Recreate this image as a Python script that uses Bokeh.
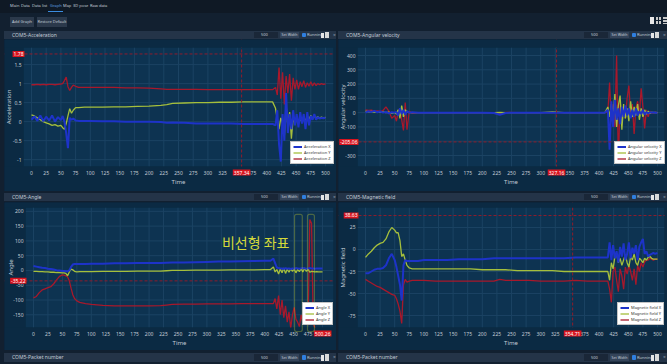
import math
from bokeh.plotting import figure
from bokeh.layouts import column, row
from bokeh.models import (Div, Span, Label, Legend, LegendItem, Range1d,
                          BoxAnnotation, Spacer)
from bokeh.embed import file_html
from bokeh.resources import INLINE

# ---------------- data ----------------
time = [0, 5, 10, 15, 20, 25, 30, 35, 40, 45, 50, 53, 56, 59, 62, 65, 68, 71, 75, 80,
        90, 100, 120, 140, 160, 180, 200, 220, 230, 240, 260, 280, 300, 320, 340, 360, 380, 400, 410,
        415, 418, 421, 424, 427, 430, 433, 436, 439, 442, 445, 448, 451, 454, 457, 460, 463, 466,
        469, 472, 475, 478, 481, 484, 487, 490, 493, 496, 500]

x_ticks = [0, 25, 50, 75, 100, 125, 150, 175, 200, 225, 250, 275, 300, 325, 350, 375, 400, 425, 450, 475, 500]

acc_x = [0.05, 0.14, 0.02, 0.16, 0.01, 0.13, 0.03, 0.16, 0.0, 0.12, 0.04,
         0.15, 0.0, -0.3, -0.7, 0.1, 0.05, 0.08, 0.03, 0.02,
         0.02, 0.02, 0.01, 0.01, 0.0, 0.0, 0.0, -0.01, -0.03, -0.02, -0.03, -0.05, -0.05, -0.05, -0.05, -0.06, -0.06, -0.06, -0.06,
         -0.1, 0.3, -0.6, -1.05, 0.2, -0.5, 0.75, -0.3, 0.2, -0.2, 0.3, -0.1, 0.2, -0.15, 0.25,
         -0.05, 0.2, -0.2, 0.25, -0.1, 0.15, 0.05, 0.2, 0.05, 0.12, 0.08, 0.1, 0.09, 0.1]
acc_y = [0.18, 0.15, 0.1, 0.05, 0.0, -0.03, -0.06, -0.1, -0.08, -0.12, -0.1,
         -0.16, -0.2, -0.05, 0.15, 0.34, 0.22, 0.3, 0.37, 0.37,
         0.38, 0.38, 0.38, 0.39, 0.39, 0.4, 0.41, 0.43, 0.45, 0.48, 0.49, 0.5, 0.5, 0.51, 0.51, 0.52, 0.52, 0.52, 0.52,
         0.35, 0.05, -0.2, 0.1, -0.05, -0.38, 0.45, -0.15, 0.25, -0.45, 0.1, -0.05, 0.05, -0.03, 0.08,
         0.0, 0.1, 0.02, 0.14, 0.05, 0.16, 0.08, 0.15, 0.1, 0.13, 0.08, 0.12, 0.1, 0.11]
acc_z = [0.97, 0.97, 0.98, 0.97, 0.98, 0.97, 0.98, 0.98, 0.97, 0.98, 0.99,
         1.0, 1.08, 1.17, 0.92, 0.82, 0.9, 0.96, 0.93, 0.9,
         0.9, 0.9, 0.9, 0.9, 0.89, 0.89, 0.88, 0.86, 0.85, 0.85, 0.85, 0.85, 0.84, 0.84, 0.84, 0.84, 0.84, 0.84, 0.84,
         0.9, 0.7, 1.42, 0.6, 1.3, 0.45, 1.2, 0.75, 1.25, 0.55, 1.15, 0.85, 1.1, 0.85, 1.05,
         0.92, 1.08, 0.9, 1.02, 0.93, 1.05, 0.94, 1.02, 0.95, 1.0, 0.97, 1.0, 0.98, 0.99]

av_x = [0, 10, 5, 12, 3, 8, 0, 5, -5, 3, 0,
        5, -20, 30, -10, 20, -15, 10, 0, 2,
        0, 0, 0, 0, 0, 0, 0, -3, -15, -2, 0, 0, 0, 0, 0, 0, 0, 0, 0,
        20, -260, 80, -100, 90, -50, 30, -80, 40, -30, 50, -20, 30, -40, 20,
        -30, 30, -20, 10, -10, 20, -15, 5, -5, 3, 0, 2, 0, 0]
av_y = [10, 5, 8, 3, 5, 2, 5, 0, 3, -5, 0,
        -10, 20, -40, 50, -30, 20, 5, 0, 0,
        0, 0, 0, 0, 0, 0, 0, 0, 2, 0, 0, 0, 0, 5, 0, 0, 0, 0, 0,
        40, -30, 60, -60, 130, -100, 50, 120, -120, 60, -40, 30, -60, 80, -30,
        40, -20, 60, -50, 30, -30, 20, -10, 10, -5, 3, 0, 1, 0]
av_z = [20, 15, 18, 10, 12, 8, 15, 40, 10, -40, -20,
        -60, 10, 30, -50, -125, 70, -120, 10, -5,
        0, 0, 0, 0, 0, 0, 0, 0, -3, 2, 0, 0, 0, 0, 0, 0, 0, 0, 0,
        5, 210, -60, 60, -100, 400, -350, 80, -60, 40, -40, 100, 190, -20, 60,
        -150, 30, 80, -20, 170, 40, -110, 20, -30, 10, -5, 0, 2, 0]

ang_x = [15, 13, 11, 9, 8, 6, 5, 3, 1, 0, -2,
         -2, -3, -3, 0, 12, 20, 22, 22, 22,
         22, 23, 23, 24, 24, 25, 25, 25, 26, 27, 27, 28, 29, 30, 30, 31, 32, 33, 33,
         40, 25, 10, 8, 7, 7, 5, 8, 6, 7, 5, 7, 6, 8, 7,
         6, 7, 8, 7, 6, 7, 8, 7, 7, 6, 7, 7, 7, 7]
ang_y = [-3, -3, -4, -4, -5, -5, -6, -6, -7, -7, -8,
         -8, -10, -18, -5, 5, 2, -3, -5, -4,
         -4, -4, -3, -3, -3, -2, -2, -2, -1, 0, 0, 1, 1, 1, 2, 2, 2, 3, 3,
         12, -5, 3, -12, 5, -8, 8, -10, 4, -6, 6, -3, 5, -8, 3,
         -4, 6, -5, 8, -3, 4, -6, -3, -4, -5, -4, -5, -5, -5]
ang_z = [-93, -88, -75, -66, -62, -58, -55, -45, -32, -20, -15,
         -16, -18, -22, -35, -60, -82, -95, -103, -108,
         -112, -115, -118, -120, -120, -120, -120, -119, -117, -115, -114, -114, -113, -113, -113, -112, -112, -112, -112,
         -112, -95, -130, -85, -150, -100, -160, -120, -175, -140, -195, -150, -125, -165, -175,
         -190, -150, -178, -140, -165, -185, 172, 160, -180, -195, -200, -198, -200, -200]

mag_x = [-27, -27, -25, -23, -22, -22, -21, -18, -10, -5, -12,
         -20, -30, -40, -58, -18, -12, -13, -13, -13,
         -13, -12, -12, -12, -11, -11, -11, -10, -10, -10, -10, -10, -10, -10, -10, -9, -9, -9, -9,
         -9, 8, -12, 5, -10, -2, -15, 3, -8, 7, -12, -5, 8, -10, 2,
         -5, 5, -12, 3, 8, 12, -5, -2, -8, -6, -5, -4, -5, -4]
mag_y = [-9, -5, -2, 2, 5, 7, 8, 12, 20, 25, 22,
         19, 19, 10, -8, -5, -12, -18, -21, -22,
         -22, -22, -22, -22, -22, -22, -23, -23, -23, -23, -24, -24, -24, -24, -25, -25, -25, -25, -25,
         -25, -35, -15, -22, -8, -5, -15, -10, -18, -12, -6, -15, -20, -8, -12,
         -5, -15, -18, -10, -12, -15, -10, -12, -9, -8, -10, -11, -11, -11]
mag_z = [-34, -36, -38, -40, -42, -43, -45, -47, -49, -51, -52,
         -56, -62, -70, -84, -40, -34, -37, -36, -35,
         -35, -35, -36, -36, -36, -36, -36, -36, -34, -35, -35, -35, -36, -36, -36, -35, -36, -36, -36,
         -36, -45, -60, -25, -20, -35, -48, -22, -30, -45, -20, -28, -18, -25, -35,
         -22, -40, -18, -25, -15, -20, -14, -12, -12, -10, -11, -12, -11, -11]

acc_ticks = [-1, -0.5, 0, 0.5, 1, 1.5]
acc_tick_labels = ["-1", "-0.5", "0", "0.5", "1", "1.5"]
av_ticks = [-300, -200, -100, 0, 100, 200, 300, 400]
ang_ticks = [-150, -100, -50, 0, 50, 100, 150, 200]
mag_ticks = [-75, -50, -25, 0, 25]

tabs = ["Main", "Data", "Data list", "Graph", "Map", "3D pose", "Raw data"]

# ---------------- style ----------------
PAGE_BG = "#122030"
NAV_BG = "#0f1925"
BAR_BG = "#243448"
PANEL_BG = "#0b2a43"
PLOT_BG = "#0d3351"
GRID = "#1b4363"
TXT = "#c3ccd6"
CROSS = "#8e1d2c"
LBL_BG = "#d8141e"
BLUE = "#1d33c9"
YEL = "#a5bf3c"
RED = "#a8182b"
FONT = "Noto Sans"
WIDTHS = {"x": 2.0, "y": 1.3, "z": 1.3}


def geo(W, H, L, R, T, B, xr, yr):
    kx = (xr[1] - xr[0]) / (R - L)
    ky = (yr[1] - yr[0]) / (B - T)
    return dict(W=W, H=H, L=L, R=R, T=T, B=B, x0=xr[0], x1=xr[1], y0=yr[0], y1=yr[1],
                kx=kx, ky=ky, xs=xr[0] - L * kx, xe=xr[1] + (W - R) * kx,
                ys=yr[0] - (H - B) * ky, ye=yr[1] + T * ky)


def px_x(g, px):
    return g["xs"] + px * g["kx"]


def px_y(g, py):
    return g["ye"] - py * g["ky"]


def txt(x, y, s, size="5px", align="center", color=TXT, angle=0.0):
    return Label(x=x, y=y, text=s, text_font=FONT, text_font_size=size, text_color=color,
                 text_align=align, text_baseline="middle", angle=angle, level="overlay")


def red_label(x, y, s, align="center"):
    return Label(x=x, y=y, text=s, text_font=FONT, text_font_size="5px", text_color="white",
                 background_fill_color=LBL_BG, text_align=align, text_baseline="middle",
                 padding=1, level="overlay")


def build(g, yticks, ylabs, ylabel, series, names, hy, hy_txt, vx, vx_txt, leg_loc, leg_lw=20):
    p = figure(width=g["W"], height=g["H"],
               x_range=Range1d(g["xs"], g["xe"]), y_range=Range1d(g["ys"], g["ye"]),
               x_axis_type=None, y_axis_type=None, output_backend="svg", toolbar_location=None,
               min_border_left=0, min_border_right=0, min_border_top=0, min_border_bottom=0)
    p.background_fill_color = PANEL_BG
    p.border_fill_color = PANEL_BG
    p.outline_line_color = None
    x0, x1, y0, y1 = g["x0"], g["x1"], g["y0"], g["y1"]
    p.add_layout(BoxAnnotation(left=x0, right=x1, bottom=y0, top=y1, fill_color=PLOT_BG,
                               fill_alpha=1, line_color=None, level="underlay"))
    # grid
    p.segment(x0=x_ticks, y0=[y0] * len(x_ticks), x1=x_ticks, y1=[y1] * len(x_ticks),
              line_color=GRID, line_width=1)
    p.segment(x0=[x0] * len(yticks), y0=yticks, x1=[x1] * len(yticks), y1=yticks,
              line_color=GRID, line_width=1)
    # series
    rs = {}
    for key in ("z", "y", "x"):
        ys, c = series[key]
        rs[key] = p.line(time, ys, line_color=c, line_width=WIDTHS[key])
    # crosshair
    if hy is not None:
        p.add_layout(Span(location=hy, dimension="width", line_color=CROSS,
                          line_dash="3 2", line_width=1))
    if vx is not None:
        p.add_layout(Span(location=vx, dimension="height", line_color=CROSS,
                          line_dash="3 2", line_width=1))
    # legend
    items = [LegendItem(label=names[i], renderers=[rs[k]]) for i, k in enumerate(("x", "y", "z"))]
    p.add_layout(Legend(items=items, location=leg_loc, background_fill_color="white",
                        background_fill_alpha=1.0, border_line_color="#8a8a8a",
                        border_line_width=0.5, label_text_font_size="4px",
                        label_text_color="#333333", label_text_font=FONT,
                        label_height=5, label_width=leg_lw, glyph_height=5, glyph_width=9,
                        spacing=1, padding=2, margin=0, label_standoff=2))
    # masks outside the plot area
    for kw in (dict(right=x0), dict(left=x1), dict(top=y0), dict(bottom=y1)):
        p.add_layout(BoxAnnotation(fill_color=PANEL_BG, fill_alpha=1, line_color=None,
                                   level="overlay", **kw))
    # x tick labels + axis label
    ty = px_y(g, g["B"] + 6)
    for t in x_ticks:
        p.add_layout(txt(t, ty, str(t)))
    p.add_layout(txt((x0 + x1) / 2, px_y(g, g["B"] + 15), "Time", size="6px"))
    # y tick labels + axis label
    lx = px_x(g, g["L"] - 2)
    for v, s in zip(yticks, ylabs):
        p.add_layout(txt(lx, v, s, align="right"))
    p.add_layout(txt(px_x(g, g["L"] - 15), (y0 + y1) / 2, ylabel, size="6px", angle=math.pi / 2))
    # crosshair value labels
    if hy is not None:
        p.add_layout(red_label(px_x(g, g["L"] + 1), hy, hy_txt, align="right"))
    if vx is not None:
        p.add_layout(red_label(vx, ty, vx_txt))
    return p


# ---------- plot 1: acceleration ----------
g1 = geo(332, 152, 19, 329, 8, 127, (-13.6, 513.6), (-1.18, 1.95))
p1 = build(g1, acc_ticks, acc_tick_labels, "Acceleration",
           {"x": (acc_x, BLUE), "y": (acc_y, YEL), "z": (acc_z, RED)},
           ["Acceleration X", "Acceleration Y", "Acceleration Z"],
           1.78, "1.78", 357.34, "357.34", (286, 27))

# ---------- plot 2: angular velocity ----------
g2 = geo(329, 152, 19, 326, 8, 127, (-13.7, 512), (-377, 456))
p2 = build(g2, av_ticks, [str(v) for v in av_ticks], "Angular velocity",
           {"x": (av_x, BLUE), "y": (av_y, YEL), "z": (av_z, RED)},
           ["Angular velocity X", "Angular velocity Y", "Angular velocity Z"],
           -205.06, "-205.06", 327.16, "327.16", (276, 27))

# ---------- plot 3: angle ----------
g3 = geo(332, 148, 21, 329, 5, 125, (-13.8, 519), (-193, 213))
p3 = build(g3, ang_ticks, [str(v) for v in ang_ticks], "Angle",
           {"x": (ang_x, BLUE), "y": (ang_y, YEL), "z": (ang_z, RED)},
           ["Angle X", "Angle Y", "Angle Z"],
           -35.22, "-35.22", None, None, (298, 25), leg_lw=10)
p3.add_layout(red_label(500.26, px_y(g3, g3["B"] + 6), "500.26"))
box_bottom = px_y(g3, g3["B"] + 4)
for l, r in ((451.6, 465), (474, 486)):
    p3.add_layout(BoxAnnotation(left=l, right=r, top=190, bottom=box_bottom, fill_alpha=0,
                                line_color="#d8de2a", line_width=1.2, border_radius=2,
                                level="overlay"))
p3.add_layout(Label(x=326, y=97, text="비선형 좌표", text_font="Noto Sans CJK KR",
                    text_font_size="14px", text_color="#d4d93a", text_baseline="middle",
                    text_align="left"))

# ---------- plot 4: magnetic field ----------
g4 = geo(329, 148, 19, 326, 5, 125, (-13.7, 512), (-88.6, 47.7))
p4 = build(g4, mag_ticks, [str(v) for v in mag_ticks], "Magnetic field",
           {"x": (mag_x, BLUE), "y": (mag_y, YEL), "z": (mag_z, RED)},
           ["Magnetic field X", "Magnetic field Y", "Magnetic field Z"],
           38.63, "38.63", 354.71, "354.71", (279, 25))


# ---------------- HTML chrome ----------------
def abs_el(left, top, w, h, inner="", style=""):
    ws = f"width:{w}px;" if w is not None else ""
    return (f'<div style="position:absolute;left:{left}px;top:{top}px;{ws}height:{h}px;'
            f'line-height:{h}px;white-space:nowrap;{style}">{inner}</div>')


def bar_html(x0, w, top, h, title, s):
    out = abs_el(x0, top, w, h, "", f"background:{BAR_BG};")
    out += abs_el(x0 + 8, top, None, h, title)
    out += abs_el(x0 + 250 + s, top + 1, 24, h - 2, "", "background:#1a2738;")
    out += abs_el(x0 + 257 + s, top, None, h, "500", "font-size:4px;")
    out += abs_el(x0 + 276 + s, top + 1, 19, h - 2, "Set Width",
                  "background:#34445a;text-align:center;font-size:3.5px;")
    out += abs_el(x0 + 298 + s, top + 2, 4, h - 4, "", "background:#2f7fe0;border-radius:1px;")
    out += abs_el(x0 + 303 + s, top, None, h, "Running", "font-size:4px;")
    out += abs_el(x0 + 317 + s, top + 2, 3, h - 3, "", "background:#e6e6e6;")
    out += abs_el(x0 + 321 + s, top + 1, 4, h - 2, "", "background:#d8d8d8;")
    out += abs_el(x0 + 329 + s, top, None, h, "×", "color:#8b97a6;")
    return out


def wrap(w, h, inner, bg):
    return (f'<div style="position:relative;width:{w}px;height:{h}px;overflow:hidden;background:{bg};'
            f'font-family:\'{FONT}\',sans-serif;font-size:5px;color:{TXT};">{inner}</div>')


tab_left = [10, 21, 32, 50, 63, 73, 90]
nav_inner = ""
for t, lx in zip(tabs, tab_left):
    col = "#5fa2e6" if t == "Graph" else TXT
    nav_inner += abs_el(lx, 3, None, 6, t, f"color:{col};font-size:4px;")
nav_inner += abs_el(48, 11, 15, 1, "", "background:#3b8de0;")
nav = Div(text=wrap(667, 13, nav_inner, NAV_BG), width=667, height=13, margin=0)

tool_inner = abs_el(10, 4, 24, 10, "Add Graph", "background:#2b394b;text-align:center;font-size:4px;")
tool_inner += abs_el(37, 4, 30, 10, "Restore Default", "background:#2b394b;text-align:center;font-size:4px;")
tool_inner += abs_el(650, 4, 4, 7, "", "background:#e8e8e8;")
tool_inner += abs_el(656, 4, 2, 3, "", "background:#c8c8c8;")
tool_inner += abs_el(659, 4, 2, 3, "", "background:#c8c8c8;")
tool_inner += abs_el(656, 8, 2, 3, "", "background:#c8c8c8;")
tool_inner += abs_el(659, 8, 2, 3, "", "background:#c8c8c8;")
tool_inner += abs_el(663, 4, 4, 2, "", "background:#c8c8c8;")
tool_inner += abs_el(663, 7, 4, 2, "", "background:#c8c8c8;")
tool_inner += abs_el(663, 10, 4, 1, "", "background:#c8c8c8;")
toolbar = Div(text=wrap(667, 15, tool_inner, PAGE_BG), width=667, height=15, margin=0)

h1 = Div(text=wrap(332, 11, bar_html(0, 332, 2, 8, "COM5-Acceleration", 0), PAGE_BG),
         width=332, height=11, margin=0)
h2 = Div(text=wrap(329, 11, bar_html(0, 329, 2, 8, "COM5-Angular velocity", -4), PAGE_BG),
         width=329, height=11, margin=0)
h3 = Div(text=wrap(332, 11, bar_html(0, 332, 1, 8, "COM5-Angle", 0), PAGE_BG),
         width=332, height=11, margin=0)
h4 = Div(text=wrap(329, 11, bar_html(0, 329, 1, 8, "COM5-Magnetic field", -4), PAGE_BG),
         width=329, height=11, margin=0)
bottom_inner = bar_html(4, 332, 3, 9, "COM5-Packet number", 0) + \
    bar_html(338, 329, 3, 9, "COM5-Packet number", -4)
bottom = Div(text=wrap(667, 14, bottom_inner, PAGE_BG), width=667, height=14, margin=0)

row1 = row(Spacer(width=4, height=163), column(h1, p1, spacing=0),
           Spacer(width=2, height=163), column(h2, p2, spacing=0), spacing=0)
row2 = row(Spacer(width=4, height=159), column(h3, p3, spacing=0),
           Spacer(width=2, height=159), column(h4, p4, spacing=0), spacing=0)

root = column(nav, toolbar, row1, row2, bottom, spacing=0,
              styles={"background-color": PAGE_BG})

open("out.html", "w").write(file_html(root, INLINE, title="Graph"))
